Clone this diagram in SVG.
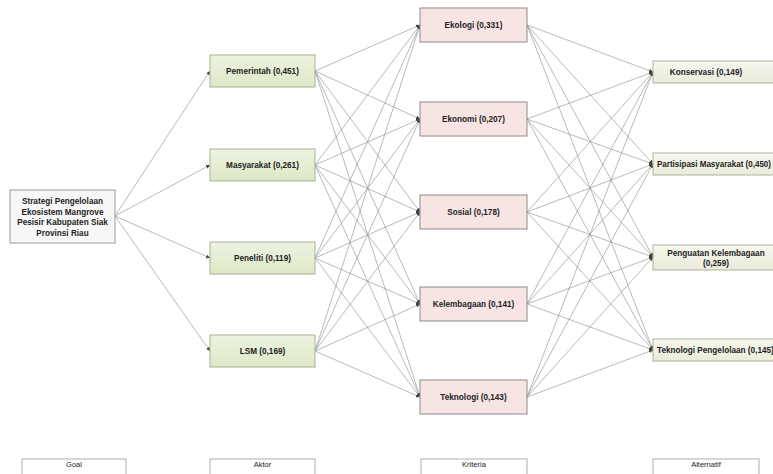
<svg xmlns="http://www.w3.org/2000/svg" width="773" height="474" viewBox="0 0 773 474">
  <style>
    .lbl { font-family: "Liberation Sans", Arial, sans-serif; font-size: 8.2px; font-weight: bold; fill: #222; text-anchor: middle; }
    .cap { font-family: "Liberation Sans", Arial, sans-serif; font-size: 7.5px; fill: #222; text-anchor: middle; }
    .goal { fill: #f7f7f7; stroke: #9a9a9a; stroke-width: 1; }
    .aktor { fill: url(#gGreen); stroke: #a8b393; stroke-width: 1; }
    .krit { fill: #f7e4e3; stroke: #8c8c8c; stroke-width: 1; }
    .alt { fill: url(#gCream); stroke: #b0b0a0; stroke-width: 1; }
    .capbox { fill: #ffffff; stroke: #9a9a9a; stroke-width: 0.8; }
    .edges line { stroke: #8a8a8a; stroke-width: 0.6; marker-end: url(#arr); }
  </style>
  <defs>
    <linearGradient id="gGreen" x1="0" y1="0" x2="0" y2="1">
      <stop offset="0" stop-color="#eef3e1"/>
      <stop offset="1" stop-color="#dde8c6"/>
    </linearGradient>
    <linearGradient id="gCream" x1="0" y1="0" x2="0" y2="1">
      <stop offset="0" stop-color="#f7f7ee"/>
      <stop offset="1" stop-color="#e9ebdb"/>
    </linearGradient>
    <marker id="arr" viewBox="0 0 10 10" refX="10" refY="5" markerWidth="4" markerHeight="4" orient="auto" markerUnits="userSpaceOnUse">
      <path d="M0,0 L10,5 L0,10 z" fill="#444"/>
    </marker>
  </defs>
  <rect width="773" height="474" fill="#ffffff"/>

  <!-- connectors -->
  <g id="connectors" class="edges">
    <!-- goal to actors -->
    <line x1="115" y1="216" x2="210" y2="71"/>
    <line x1="115" y1="216" x2="210" y2="165"/>
    <line x1="115" y1="216" x2="210" y2="258"/>
    <line x1="115" y1="216" x2="210" y2="351"/>
    <!-- actors to criteria -->
    <line x1="315" y1="71" x2="420" y2="25"/>
    <line x1="315" y1="71" x2="420" y2="119"/>
    <line x1="315" y1="71" x2="420" y2="212"/>
    <line x1="315" y1="71" x2="420" y2="304"/>
    <line x1="315" y1="71" x2="420" y2="397"/>
    <line x1="315" y1="165" x2="420" y2="25"/>
    <line x1="315" y1="165" x2="420" y2="119"/>
    <line x1="315" y1="165" x2="420" y2="212"/>
    <line x1="315" y1="165" x2="420" y2="304"/>
    <line x1="315" y1="165" x2="420" y2="397"/>
    <line x1="315" y1="258" x2="420" y2="25"/>
    <line x1="315" y1="258" x2="420" y2="119"/>
    <line x1="315" y1="258" x2="420" y2="212"/>
    <line x1="315" y1="258" x2="420" y2="304"/>
    <line x1="315" y1="258" x2="420" y2="397"/>
    <line x1="315" y1="351" x2="420" y2="25"/>
    <line x1="315" y1="351" x2="420" y2="119"/>
    <line x1="315" y1="351" x2="420" y2="212"/>
    <line x1="315" y1="351" x2="420" y2="304"/>
    <line x1="315" y1="351" x2="420" y2="397"/>
    <!-- criteria to alternatives -->
    <line x1="527" y1="25" x2="653" y2="72"/>
    <line x1="527" y1="25" x2="653" y2="164"/>
    <line x1="527" y1="25" x2="653" y2="257"/>
    <line x1="527" y1="25" x2="653" y2="350"/>
    <line x1="527" y1="119" x2="653" y2="72"/>
    <line x1="527" y1="119" x2="653" y2="164"/>
    <line x1="527" y1="119" x2="653" y2="257"/>
    <line x1="527" y1="119" x2="653" y2="350"/>
    <line x1="527" y1="212" x2="653" y2="72"/>
    <line x1="527" y1="212" x2="653" y2="164"/>
    <line x1="527" y1="212" x2="653" y2="257"/>
    <line x1="527" y1="212" x2="653" y2="350"/>
    <line x1="527" y1="304" x2="653" y2="72"/>
    <line x1="527" y1="304" x2="653" y2="164"/>
    <line x1="527" y1="304" x2="653" y2="257"/>
    <line x1="527" y1="304" x2="653" y2="350"/>
    <line x1="527" y1="397" x2="653" y2="72"/>
    <line x1="527" y1="397" x2="653" y2="164"/>
    <line x1="527" y1="397" x2="653" y2="257"/>
    <line x1="527" y1="397" x2="653" y2="350"/>
  </g>

  <!-- goal -->
  <g id="goal">
    <rect class="goal" x="10" y="190" width="105" height="53"/>
    <text class="lbl" x="62.5" y="204">Strategi Pengelolaan</text>
    <text class="lbl" x="62.5" y="214.5">Ekosistem Mangrove</text>
    <text class="lbl" x="62.5" y="225">Pesisir Kabupaten Siak</text>
    <text class="lbl" x="62.5" y="235.5">Provinsi Riau</text>
  </g>

  <!-- actors -->
  <g id="aktor-pemerintah">
    <rect class="aktor" x="210" y="55" width="105" height="32"/>
    <text class="lbl" x="262.5" y="74">Pemerintah (0,451)</text>
  </g>
  <g id="aktor-masyarakat">
    <rect class="aktor" x="210" y="149" width="105" height="32"/>
    <text class="lbl" x="262.5" y="168">Masyarakat (0,261)</text>
  </g>
  <g id="aktor-peneliti">
    <rect class="aktor" x="210" y="242" width="105" height="32"/>
    <text class="lbl" x="262.5" y="261">Peneliti (0,119)</text>
  </g>
  <g id="aktor-lsm">
    <rect class="aktor" x="210" y="335" width="105" height="32"/>
    <text class="lbl" x="262.5" y="354">LSM (0,169)</text>
  </g>

  <!-- criteria -->
  <g id="kriteria-ekologi">
    <rect class="krit" x="420" y="8" width="107" height="34"/>
    <text class="lbl" x="473.5" y="28">Ekologi (0,331)</text>
  </g>
  <g id="kriteria-ekonomi">
    <rect class="krit" x="420" y="102" width="107" height="34"/>
    <text class="lbl" x="473.5" y="122">Ekonomi (0,207)</text>
  </g>
  <g id="kriteria-sosial">
    <rect class="krit" x="420" y="195" width="107" height="34"/>
    <text class="lbl" x="473.5" y="215">Sosial (0,178)</text>
  </g>
  <g id="kriteria-kelembagaan">
    <rect class="krit" x="420" y="287" width="107" height="34"/>
    <text class="lbl" x="473.5" y="307">Kelembagaan (0,141)</text>
  </g>
  <g id="kriteria-teknologi">
    <rect class="krit" x="420" y="380" width="107" height="34"/>
    <text class="lbl" x="473.5" y="400">Teknologi (0,143)</text>
  </g>

  <!-- alternatives -->
  <g id="alt-konservasi">
    <rect class="alt" x="653" y="61" width="130" height="22"/>
    <text class="lbl" x="706" y="75">Konservasi (0,149)</text>
  </g>
  <g id="alt-partisipasi">
    <rect class="alt" x="653" y="153" width="130" height="22"/>
    <text class="lbl" x="657" y="167" style="text-anchor:start" textLength="114" lengthAdjust="spacingAndGlyphs">Partisipasi Masyarakat (0,450)</text>
  </g>
  <g id="alt-penguatan">
    <rect class="alt" x="653" y="245" width="130" height="25"/>
    <text class="lbl" x="716" y="256">Penguatan Kelembagaan</text>
    <text class="lbl" x="716" y="266">(0,259)</text>
  </g>
  <g id="alt-teknologi">
    <rect class="alt" x="653" y="339" width="130" height="22"/>
    <text class="lbl" x="657" y="353" style="text-anchor:start">Teknologi Pengelolaan (0,145)</text>
  </g>

  <!-- level captions -->
  <g id="cap-goal">
    <rect class="capbox" x="22" y="459" width="104" height="22"/>
    <text class="cap" x="74" y="467">Goal</text>
  </g>
  <g id="cap-aktor">
    <rect class="capbox" x="210" y="459" width="105" height="22"/>
    <text class="cap" x="262.5" y="467">Aktor</text>
  </g>
  <g id="cap-kriteria">
    <rect class="capbox" x="421" y="459" width="106" height="22"/>
    <text class="cap" x="474" y="467">Kriteria</text>
  </g>
  <g id="cap-alternatif">
    <rect class="capbox" x="653" y="459" width="106" height="22"/>
    <text class="cap" x="706" y="467">Alternatif</text>
  </g>
</svg>
